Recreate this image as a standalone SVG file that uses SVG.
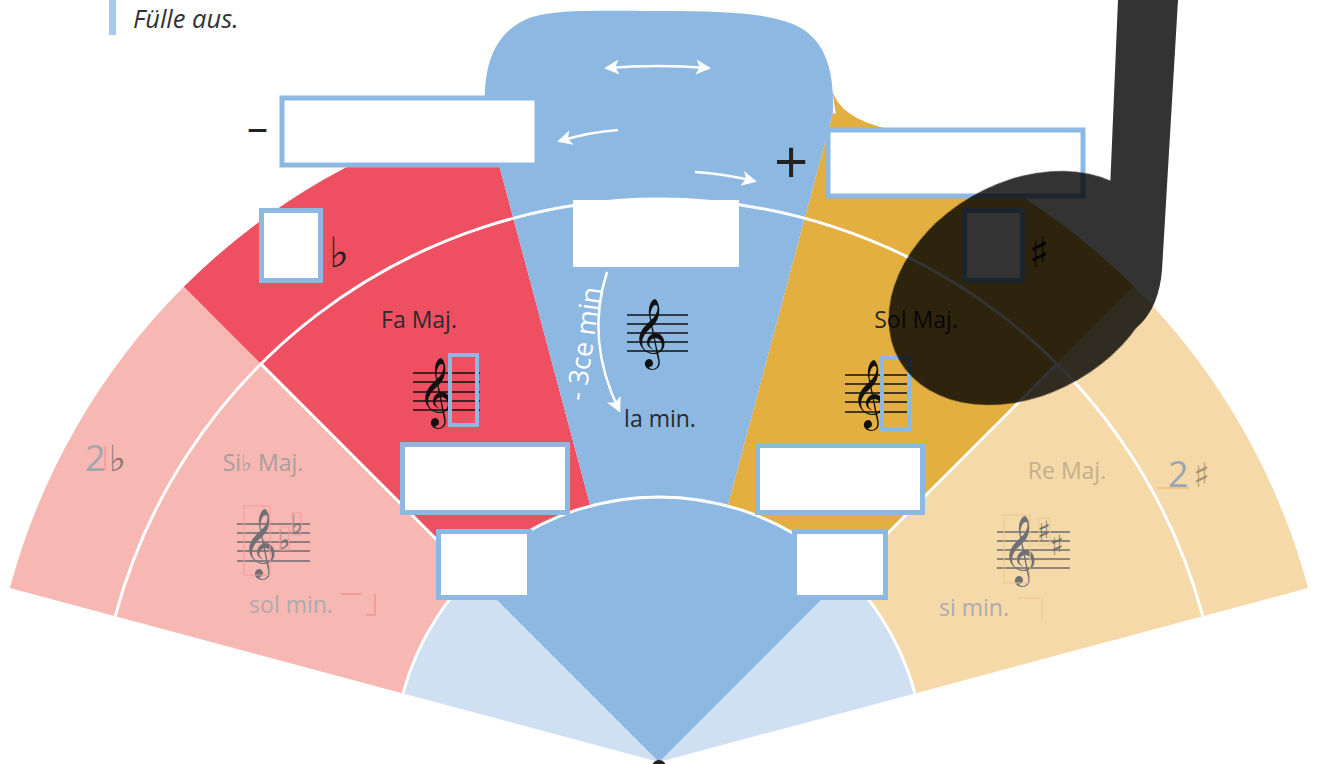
<svg xmlns="http://www.w3.org/2000/svg" width="1319" height="764" viewBox="0 0 1319 764">
<defs>
<style>
.lbl{font-family:"Open Sans","Liberation Sans",sans-serif;font-size:23px;fill:#2a2a2a}
.fade{font-family:"Open Sans","Liberation Sans",sans-serif;font-size:23px}
.box{fill:#fff;stroke:#8cb8e2;stroke-width:5}
.obox{fill:none;stroke:#8cb8e2;stroke-width:4}
.sep{fill:none;stroke:#fff;stroke-width:3}
.arr{fill:none;stroke:#fff;stroke-width:2.5}
.staff{stroke:#111;stroke-width:1.3}
.gstaff{stroke:#6b6b70;stroke-width:1.3}
.sym{font-family:"DejaVu Sans","Noto Sans",sans-serif}
</style>
<marker id="ah" viewBox="0 0 10 10" refX="8" refY="5" markerWidth="6" markerHeight="6" orient="auto-start-reverse" markerUnits="strokeWidth">
<path d="M0,0 L10,5 L0,10 L2.5,5 Z" fill="#fff"/>
</marker>
</defs>
<rect width="1319" height="764" fill="#fff"/>

<g id="header">
<rect x="109" y="0" width="7" height="35" fill="#a9c9ec"/>
<text x="133" y="28" font-family="'Open Sans','Liberation Sans',sans-serif" font-style="italic" font-size="25.5" fill="#333">Fülle aus.</text>
</g>

<g id="sector-2flat">
<path d="M403,693.4 L9.9,588.1 A672,672 0 0 1 183.8,286.8 L471.6,574.6 A265,265 0 0 0 403,693.4 Z" fill="#f7b8b3"/>
</g>
<g id="sector-1flat">
<path d="M471.6,574.6 L183.8,286.8 A672,672 0 0 1 485.1,112.9 L590.4,506 A265,265 0 0 0 471.6,574.6 Z" fill="#ef5061"/>
</g>
<g id="sector-1sharp">
<path d="M832,90 Q840,118 888,129 L840,140 Z" fill="#e3af40"/>
<path d="M727.6,506 L832.9,112.9 A672,672 0 0 1 1134.2,286.8 L846.4,574.6 A265,265 0 0 0 727.6,506 Z" fill="#e3af40"/>
</g>
<g id="sector-2sharp">
<path d="M846.4,574.6 L1134.2,286.8 A672,672 0 0 1 1308.1,588.1 L915,693.4 A265,265 0 0 0 846.4,574.6 Z" fill="#f5d9a8"/>
</g>
<g id="inner-disc">
<path d="M659,762 L403,693.4 A265,265 0 0 1 915,693.4 Z" fill="#cfe0f2"/>
<path d="M659,762 L471.6,574.6 A265,265 0 0 1 846.4,574.6 Z" fill="#8cb8e2"/>
</g>
<g id="center-funnel">
<path d="M590.4,506 L485.1,112.9 C483,72 490,32 532,17 C560,9 600,11 660,11 C728,11 778,13 804,30 C830,48 834,80 832.9,112.9 L727.6,506 A265,265 0 0 0 590.4,506 Z" fill="#8cb8e2"/>
</g>

<g id="connectors">
<path class="sep" d="M115.2,616.3 A563,563 0 0 1 1202.8,616.3"/>
<path class="sep" d="M403,693.4 A265,265 0 0 1 915,693.4"/>
<line class="sep" x1="260.9" y1="363.9" x2="471.6" y2="574.6"/>
<line class="sep" x1="1057.1" y1="363.9" x2="846.4" y2="574.6"/>
<path class="arr" d="M607,68 Q658,64 708,68" marker-start="url(#ah)" marker-end="url(#ah)"/>
<path class="arr" d="M618,130 Q590,132 560,141" marker-end="url(#ah)"/>
<path class="arr" d="M695,172 Q725,174 754,181" marker-end="url(#ah)"/>
<path class="arr" d="M607,272 Q585,340 619,410" marker-end="url(#ah)"/>
</g>

<g id="signs">
<text x="247" y="142" font-family="'Open Sans','Liberation Sans',sans-serif" font-size="42" fill="#222">–</text>
<text x="774" y="184" font-family="'Open Sans','Liberation Sans',sans-serif" font-size="60" fill="#222">+</text>
<text class="sym" x="329" y="267" font-size="42" fill="#222">♭</text>
<text class="sym" x="1029" y="267" font-size="42" fill="#111">♯</text>
</g>

<g id="boxes">
<rect class="box" x="282" y="98" width="255" height="67"/>
<rect class="box" x="828" y="130" width="255" height="66"/>
<rect class="box" x="261.5" y="210.5" width="59" height="70"/>
<rect class="box" x="964.5" y="210.5" width="58" height="70"/>
<rect x="573" y="200" width="166" height="67" fill="#fff"/>
<rect class="box" x="402.5" y="444.5" width="165" height="68"/>
<rect class="box" x="757.5" y="445.5" width="165" height="67"/>
<rect class="box" x="438.5" y="531.5" width="91" height="66"/>
<rect class="box" x="794.5" y="531.5" width="91" height="66"/>
</g>

<g id="fa-maj">
<text class="lbl" x="419" y="328" text-anchor="middle">Fa Maj.</text>
<g class="staff"><line x1="413" y1="373" x2="480" y2="373"/><line x1="413" y1="382" x2="480" y2="382"/><line x1="413" y1="392" x2="480" y2="392"/><line x1="413" y1="401" x2="480" y2="401"/><line x1="413" y1="410" x2="480" y2="410"/></g>
<text class="sym" x="418" y="412" font-size="60" fill="#111">𝄞</text>
<rect class="obox" x="450" y="355" width="27" height="70"/>
</g>

<g id="la-min">
<text class="lbl" x="660" y="427" text-anchor="middle">la min.</text>
<g class="staff"><line x1="627" y1="315" x2="688" y2="315"/><line x1="627" y1="324" x2="688" y2="324"/><line x1="627" y1="333" x2="688" y2="333"/><line x1="627" y1="342" x2="688" y2="342"/><line x1="627" y1="351" x2="688" y2="351"/></g>
<text class="sym" x="632" y="353" font-size="60" fill="#111">𝄞</text>
<text x="0" y="0" transform="translate(593,345) rotate(-82)" text-anchor="middle" font-family="'Open Sans','Liberation Sans',sans-serif" font-size="27" fill="#fff">- 3ce min</text>
</g>

<g id="sol-maj">
<text class="lbl" x="916" y="328" text-anchor="middle">Sol Maj.</text>
<g class="staff"><line x1="845" y1="375" x2="910" y2="375"/><line x1="845" y1="384" x2="910" y2="384"/><line x1="845" y1="393" x2="910" y2="393"/><line x1="845" y1="402" x2="910" y2="402"/><line x1="845" y1="412" x2="910" y2="412"/></g>
<text class="sym" x="851" y="414" font-size="60" fill="#111">𝄞</text>
<rect class="obox" x="882" y="358" width="27" height="71"/>
</g>

<g id="sib-maj">
<text class="fade" x="263" y="471" text-anchor="middle" fill="#a89e9e">Si♭ Maj.</text>
<g class="gstaff"><line x1="237" y1="524" x2="310" y2="524"/><line x1="237" y1="533" x2="310" y2="533"/><line x1="237" y1="542" x2="310" y2="542"/><line x1="237" y1="551" x2="310" y2="551"/><line x1="237" y1="561" x2="310" y2="561"/></g>
<text class="sym" x="242" y="563" font-size="60" fill="#707075">𝄞</text>
<text class="sym" x="291" y="533" font-size="26" fill="#707075">♭</text>
<text class="sym" x="278" y="549" font-size="26" fill="#707075">♭</text>
<rect x="244" y="506" width="26" height="69" fill="none" stroke="#f59a9a" stroke-width="1"/>
<rect x="280" y="527" width="9" height="23" fill="none" stroke="#f59a9a" stroke-width="1"/>
<rect x="292" y="513" width="9" height="22" fill="none" stroke="#f59a9a" stroke-width="1"/>
<text class="fade" x="291" y="613" text-anchor="middle" fill="#aeaab0">sol min.</text>
<path d="M341,594 H362 M375,594 V615 H366" fill="none" stroke="#f08080" stroke-width="1"/>
<text x="85" y="471" font-family="'Open Sans','Liberation Sans',sans-serif" font-size="36" fill="#a4a6ae">2</text>
<text class="sym" x="109" y="471" font-size="36" fill="#8e7676">♭</text>
<line x1="105" y1="446" x2="105" y2="470" stroke="#f08a8a" stroke-width="1"/>
</g>

<g id="re-maj">
<text class="fade" x="1067" y="479" text-anchor="middle" fill="#c4b08c">Re Maj.</text>
<g class="gstaff"><line x1="997" y1="532" x2="1070" y2="532"/><line x1="997" y1="541" x2="1070" y2="541"/><line x1="997" y1="550" x2="1070" y2="550"/><line x1="997" y1="559" x2="1070" y2="559"/><line x1="997" y1="568" x2="1070" y2="568"/></g>
<text class="sym" x="1002" y="570" font-size="60" fill="#707075">𝄞</text>
<text class="sym" x="1037" y="541" font-size="28" fill="#707075">♯</text>
<text class="sym" x="1050" y="555" font-size="28" fill="#707075">♯</text>
<rect x="1039" y="518" width="11" height="27" fill="none" stroke="#ecc98a" stroke-width="1"/>
<rect x="1004" y="515" width="26" height="68" fill="none" stroke="#ecc98a" stroke-width="1"/>
<text class="fade" x="974" y="616" text-anchor="middle" fill="#aeaab0">si min.</text>
<path d="M1018,598 H1040 M1042,598 V620" fill="none" stroke="#ecc98a" stroke-width="1"/>
<text x="1168" y="487" font-family="'Open Sans','Liberation Sans',sans-serif" font-size="36" fill="#9aa6b8">2</text>
<text class="sym" x="1193" y="487" font-size="34" fill="#a89470">♯</text>
<line x1="1158" y1="488" x2="1189" y2="488" stroke="#f0b050" stroke-width="1"/>
</g>

<g id="pivot">
<circle cx="659" cy="767" r="7" fill="#222"/>
</g>

<g id="note" opacity="0.8">
<path d="M1118,0 L1178,0 L1162,270 C1158,320 1130,340 1100,340 L1110,190 Z" fill="#000"/>
<ellipse cx="1025" cy="288" rx="145" ry="106" transform="rotate(-30 1025 288)" fill="#000"/>
</g>
</svg>
